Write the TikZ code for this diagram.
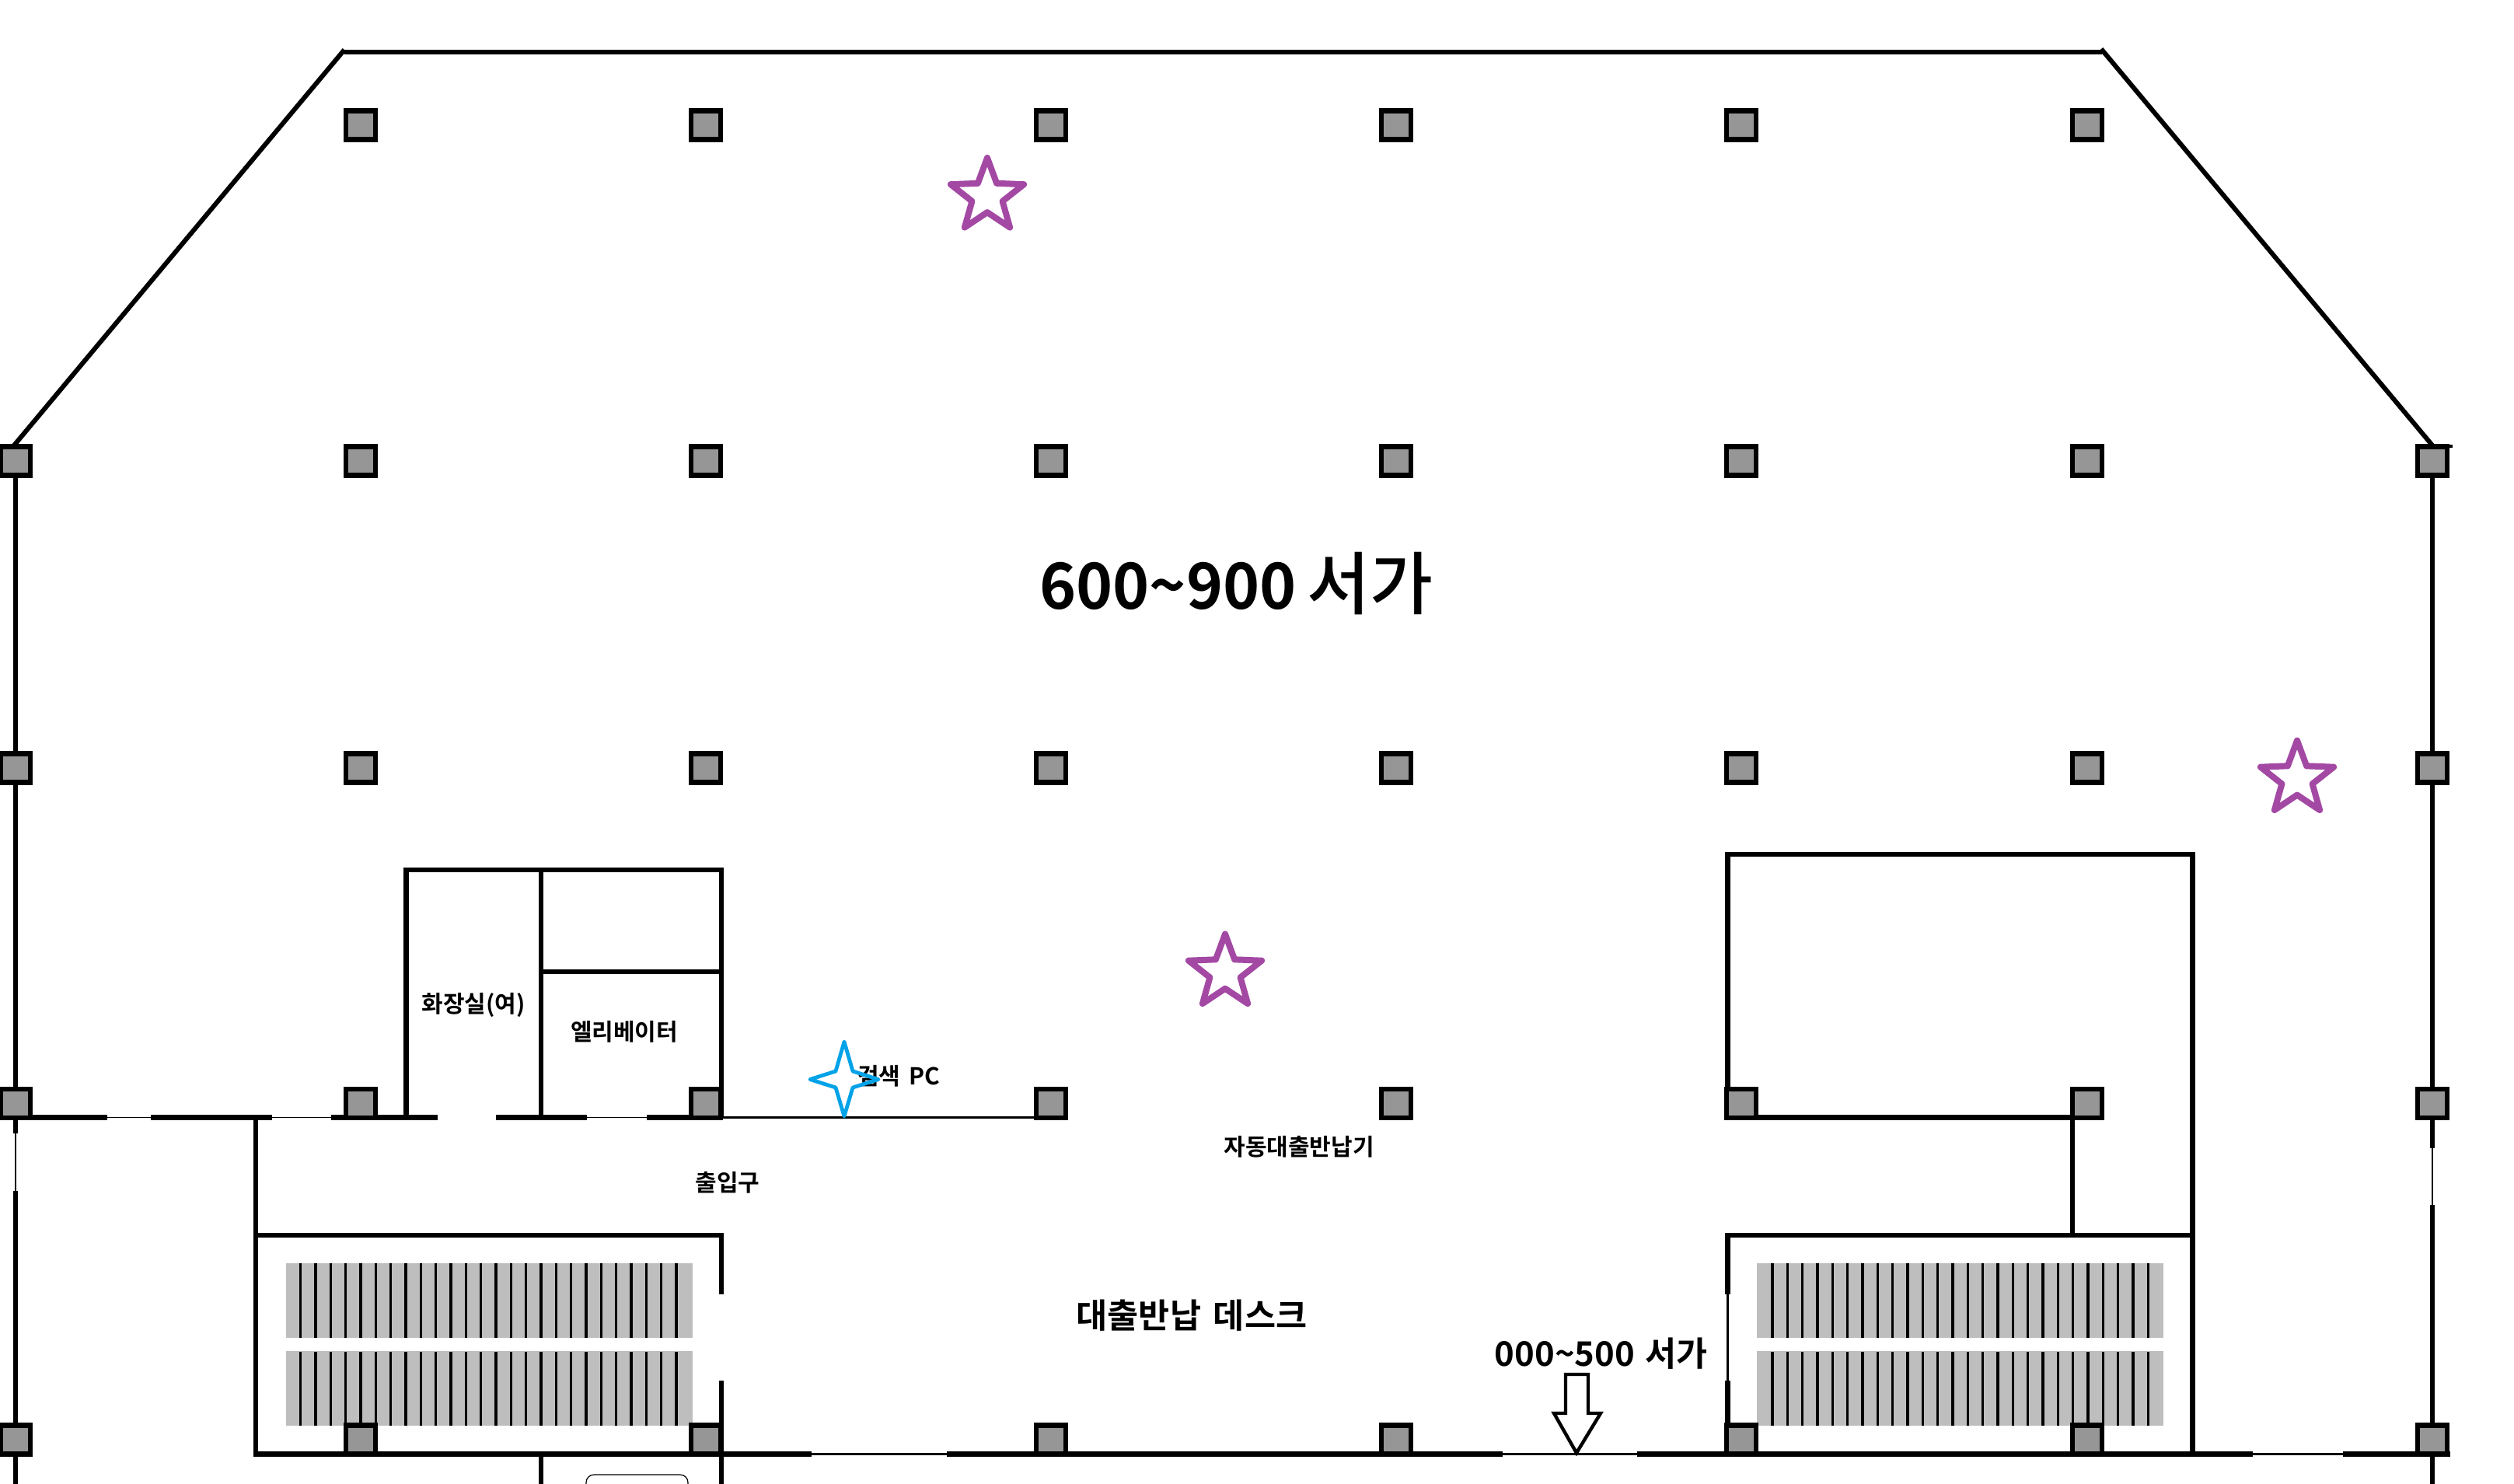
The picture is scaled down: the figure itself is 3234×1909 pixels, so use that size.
\documentclass[tikz,border=0pt]{standalone}
\usepackage{fontspec}
\usetikzlibrary{shapes.geometric}
\newfontfamily\krfont{Noto Sans CJK KR}[BoldFont=* Bold]
\newfontfamily\krmed{Noto Sans CJK KR Medium}
\newfontfamily\krdig{Noto Sans CJK KR Bold}[FakeStretch=0.975]
\definecolor{pillargray}{HTML}{969696}
\definecolor{stairgray}{HTML}{BEBEBE}
\definecolor{starpurple}{HTML}{A349A4}
\definecolor{starblue}{HTML}{00A2E8}
\tikzset{
  x=0.5pt,y=-0.5pt,
  wall/.style={line width=3.6pt,black},
  wallsix/.style={line width=3.35pt,black},
  walltop/.style={line width=3pt,black},
  wallmed/.style={line width=1.7pt,black},
  wallthin/.style={line width=0.9pt,black},
  pillar/.style={draw=black,line width=3.4pt,fill=pillargray,minimum width=19pt,minimum height=18.5pt,inner sep=0pt,outer sep=0pt},
  treads/.style={line width=1.65pt,black},
  purplestar/.style={star,star points=5,star point ratio=2.4,draw=starpurple,line width=4pt,line join=round,fill=none,minimum size=49.5pt,inner sep=0pt,outer sep=0pt},
  lbl/.style={font=\krfont\bfseries\fontsize{15pt}{17pt}\selectfont,inner sep=0pt,text=black},
  lblmid/.style={font=\krfont\bfseries\fontsize{21.8pt}{24pt}\selectfont,inner sep=0pt,text=black},
  lblbig/.style={inner sep=0pt,text=black},
}
\begin{document}
\begin{tikzpicture}
\path[fill=white] (0,0) rectangle (3234,1909);
\useasboundingbox (0,0) rectangle (3234,1909);
% stairs
\foreach \xa/\xb/\xc in {368/891/386.7,2260/2783/2280}{
  \fill[stairgray] (\xa,1624.5) rectangle (\xb,1721);
  \fill[stairgray] (\xa,1737.5) rectangle (\xb,1834);
  \foreach \i in {0,...,25}{
    \draw[treads] ({\xc+19.33*\i},1624.5) -- ({\xc+19.33*\i},1721);
    \draw[treads] ({\xc+19.33*\i},1738.5) -- ({\xc+19.33*\i},1834);
  }
}
% outer shell
\draw[walltop] (443,67) -- (2704,67);
\draw[walltop] (18,573) -- (443,64);
\draw[walltop] (2703,63) -- (3129,573);
\draw[line width=2pt] (3107,574) -- (3155,574);
\draw[wallsix] (20,593) -- (20,1458);
\draw[wallthin,line width=.7pt] (20,1458) -- (20,1532);
\draw[wallsix] (20,1532) -- (20,1909);
\draw[wallsix] (3129,593) -- (3129,1477);
\draw[wallthin,line width=.7pt] (3129,1477) -- (3129,1550);
\draw[wallsix] (3129,1550) -- (3129,1909);
% row wall at y 1437.5
\draw[wall] (0,1437.5) -- (138,1437.5);
\draw[wallthin] (138,1437.5) -- (194,1437.5);
\draw[wall] (194,1437.5) -- (350,1437.5);
\draw[wallthin] (350,1437.5) -- (426,1437.5);
\draw[wall] (426,1437.5) -- (563,1437.5);
\draw[wall] (638,1437.5) -- (755,1437.5);
\draw[wallthin] (755,1437.5) -- (832,1437.5);
\draw[wall] (832,1437.5) -- (930,1437.5);
\draw[wallmed] (930,1437.5) -- (1352,1437.5);
% rest room and elevator block
\draw[wallsix] (522.5,1438) -- (522.5,1119) -- (928,1119) -- (928,1438);
\draw[wallsix] (696,1119) -- (696,1438);
\draw[line width=2.7pt] (696,1250) -- (928,1250);
% left stair box
\draw[wallsix] (329,1438) -- (329,1873);
\draw[wallsix] (326,1589) -- (928,1589) -- (928,1665);
\draw[wallsix] (928,1776) -- (928,1909);
\draw[wallsix] (696,1870) -- (696,1909);
\draw[line width=.6pt,rounded corners=5pt] (754,1909) -- (754,1897) -- (885,1897) -- (885,1909);
% bottom wall
\draw[wall] (326,1870.5) -- (1044,1870.5);
\draw[wallthin,line width=1.2pt] (1044,1870.5) -- (1218,1870.5);
\draw[wall] (1218,1870.5) -- (1933,1870.5);
\draw[wallthin,line width=1.2pt] (1933,1870.5) -- (2106,1870.5);
\draw[wall] (2106,1870.5) -- (2898,1870.5);
\draw[wallthin,line width=1.2pt] (2898,1870.5) -- (3014,1870.5);
\draw[wall] (3014,1870.5) -- (3152,1870.5);
% right block
\draw[wallsix] (2222.5,1437.5) -- (2222.5,1099) -- (2820.5,1099) -- (2820.5,1870);
\draw[wall] (2222,1437.5) -- (2700,1437.5);
\draw[line width=2.6pt] (2666,1438) -- (2666,1589);
\draw[wallsix] (2219,1589) -- (2820.5,1589);
\draw[wallsix] (2222.5,1589) -- (2222.5,1665);
\draw[line width=1.5pt] (2222.5,1665) -- (2222.5,1776);
\draw[wallsix] (2222.5,1776) -- (2222.5,1870);
% pillars
\foreach \c/\px in {1/464,2/908,3/1352,4/1796,5/2240,6/2685}
  \node[pillar] (pa\c) at (\px,161) {};
\foreach \r/\py in {b/593,c/988,d/1419.5,e/1852}
  \foreach \c/\px in {0/20,1/464,2/908,3/1352,4/1796,5/2240,6/2685,7/3129}
    \node[pillar] (p\r\c) at (\px,\py) {};
% labels
\node[lblbig] (t600) at (1590.5,751) {{\krdig\fontsize{41pt}{46pt}\selectfont 600\textasciitilde 900}\hspace{7pt}{\krmed\fontsize{44pt}{46pt}\selectfont 서가}};
\node[lbl] (trest) at (609,1293) {화장실(여)};
\node[lbl] (telev) at (803,1327) {엘리베이터};
\node[lbl] (tentr) at (936,1521) {출입구};
\node[lbl] (tpc) at (1156,1384) {검색\hspace{2pt} PC};
\node[lbl] (tauto) at (1671,1475) {자동대출반납기};
\node[lblmid] (tdesk) at (1533,1692) {대출반납\hspace{3pt} 데스크};
\node[lblmid] (t000) at (2060,1741) {000\textasciitilde 500\hspace{2pt} 서가};
% arrow
\draw[line width=2.2pt,fill=white,miter limit=3] (2014,1768) -- (2043,1768) -- (2043,1818) -- (2059,1818) -- (2028,1869) -- (1999,1818) -- (2014,1818) -- cycle;
% stars
\node[purplestar] (s1) at (1270,252.5) {};
\node[purplestar] (s2) at (2955,1002) {};
\node[purplestar] (s3) at (1576,1251) {};
\draw[starblue,line width=2.4pt,line join=round] (1086,1340) -- (1097,1378) -- (1130,1388.5) -- (1097,1399) -- (1086,1436) -- (1075,1399) -- (1042,1388.5) -- (1075,1378) -- cycle;
\end{tikzpicture}
\end{document}
